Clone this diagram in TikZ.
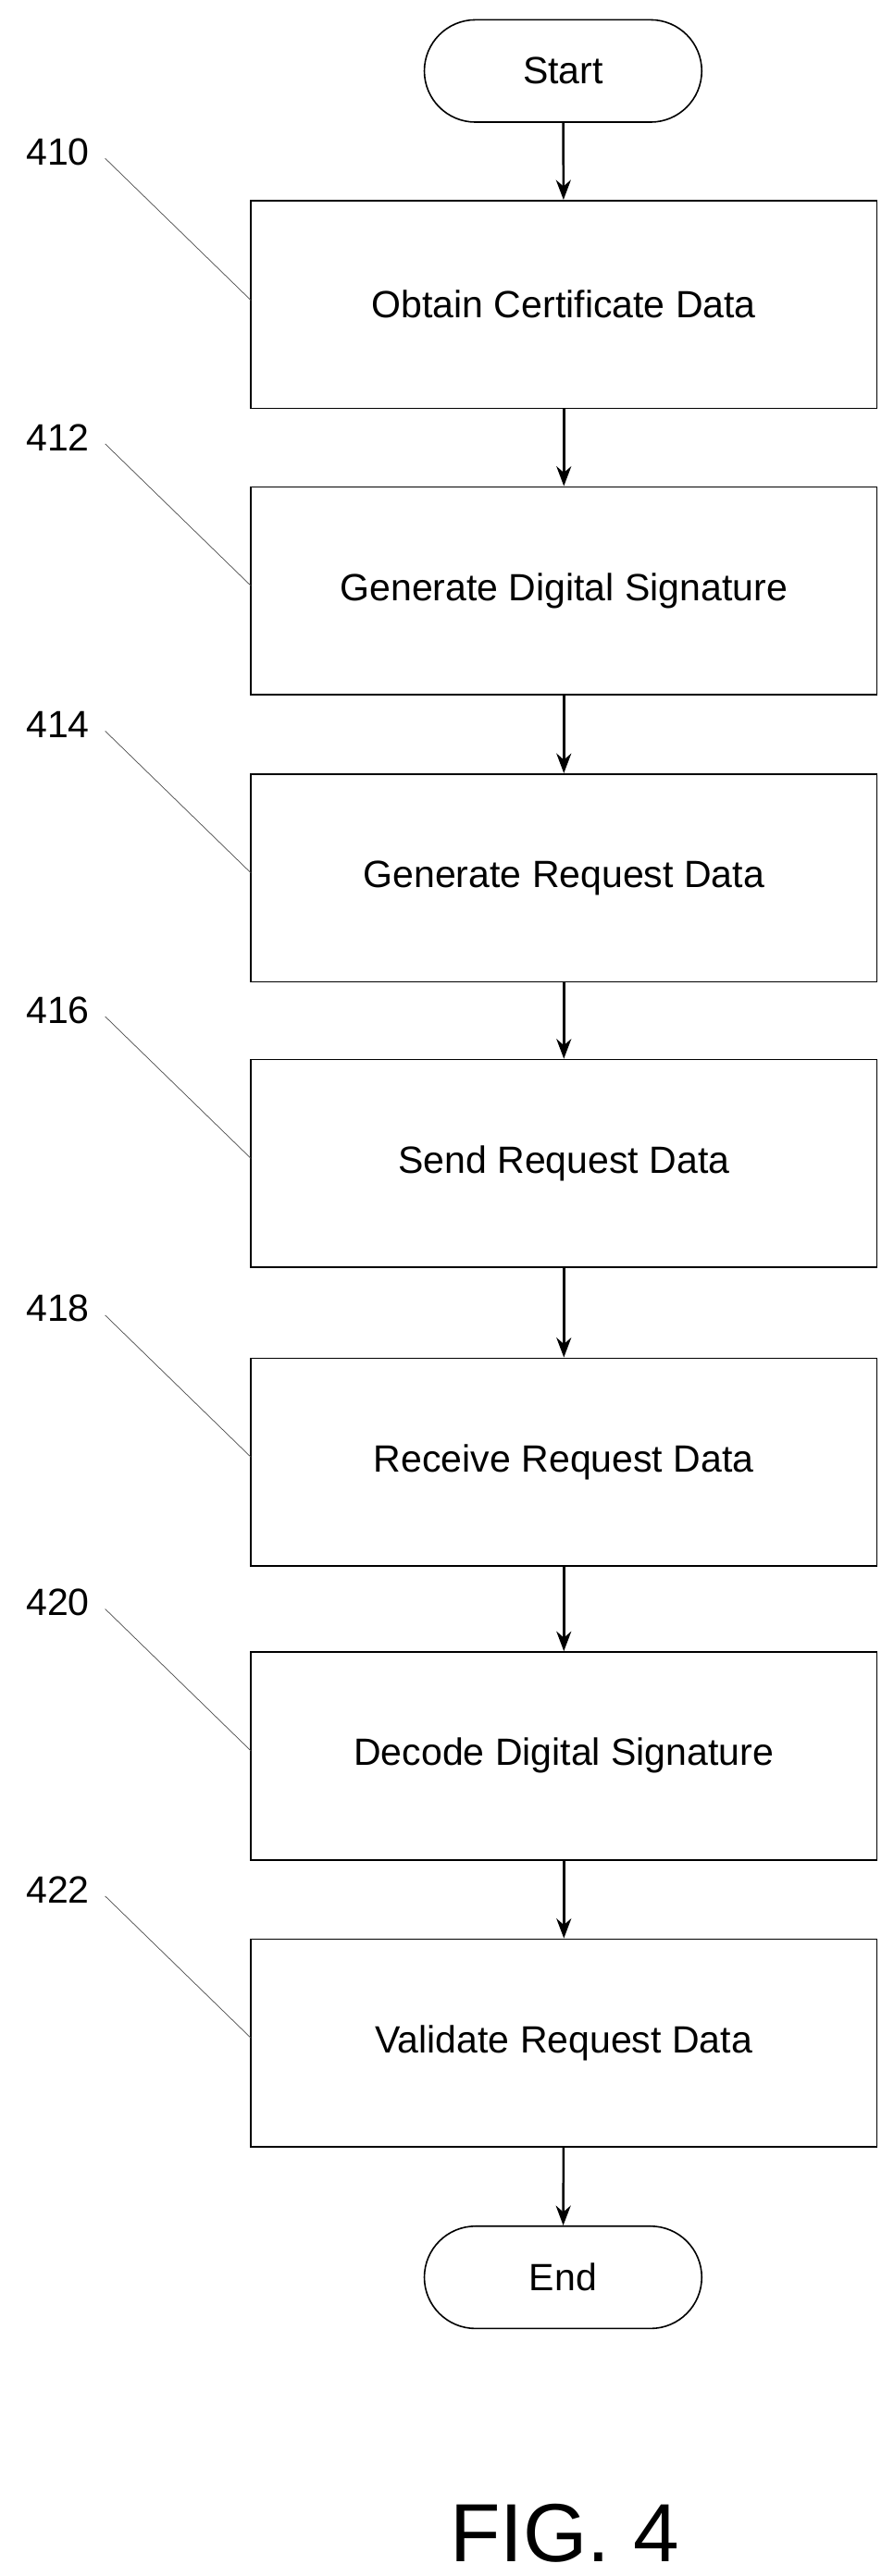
\documentclass[tikz,border=0pt]{standalone}
\usepackage{fontspec}
\setmainfont{Liberation Sans}
\usetikzlibrary{positioning,arrows.meta}
\tikzset{
  stepbox/.style={draw=black,line width=0.9pt,minimum width=379pt,minimum height=126pt,font=\fontsize{23}{26}\selectfont},
  term/.style={draw=black,line width=0.9pt,rounded corners=31pt,minimum width=168pt,minimum height=62pt,font=\fontsize{23}{26}\selectfont},
  flow/.style={-{Stealth[length=12pt,width=9pt]},line width=1.4pt},
  lead/.style={line width=0.4pt,draw=black!70},
  ref/.style={font=\fontsize{23}{26}\selectfont}
}
\begin{document}
\begin{tikzpicture}[x=1pt,y=1pt,yscale=-1]
\useasboundingbox (0,0) rectangle (541,1561);
\node[term] (start) at (341,43) {Start};
\node[stepbox] (s410) at (341.5,184.5) {Obtain Certificate Data};
\node[stepbox] (s412) at (341.5,358) {Generate Digital Signature};
\node[stepbox] (s414) at (341.5,532) {Generate Request Data};
\node[stepbox] (s416) at (341.5,705) {Send Request Data};
\node[stepbox] (s418) at (341.5,886) {Receive Request Data};
\node[stepbox] (s420) at (341.5,1064) {Decode Digital Signature};
\node[stepbox] (s422) at (341.5,1238) {Validate Request Data};
\node[term] (end) at (341,1380) {End};
% reference numbers with leader lines
\foreach \n/\y in {410/92,412/265,414/439,416/612,418/793,420/971,422/1145}{
  \node[ref] (r\n) at (35,\y) {\n};
  \coordinate (c\n) at (152,\y+90);
  \draw[lead] (r\n.east) ++(6,4) -- (c\n);
}
% connectors
\draw[flow] (start) -- (s410);
\draw[flow] (s410) -- (s412);
\draw[flow] (s412) -- (s414);
\draw[flow] (s414) -- (s416);
\draw[flow] (s416) -- (s418);
\draw[flow] (s418) -- (s420);
\draw[flow] (s420) -- (s422);
\draw[flow] (s422) -- (end);
\node[font=\fontsize{50}{56}\selectfont] (fig) at (342,1535) {FIG. 4};
\end{tikzpicture}
\end{document}
